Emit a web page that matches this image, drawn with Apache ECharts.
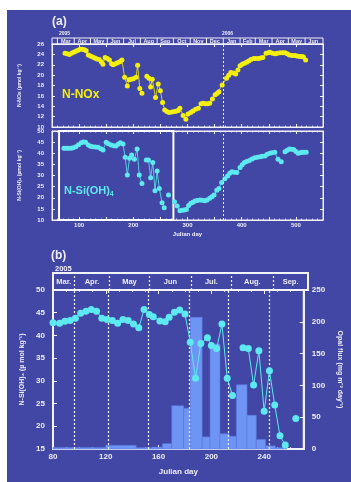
<!DOCTYPE html>
<html>
<head>
<meta charset="utf-8">
<script src="https://cdn.jsdelivr.net/npm/echarts@6/dist/echarts.min.js"></script>
<style>
html, body { margin: 0; padding: 0; background: #fff; }
#panel { position: absolute; left: 7px; top: 10px; width: 344px; height: 472px; background: #4247a6; }
#chart { position: absolute; left: 0; top: 0; width: 351px; height: 482px; }
</style>
</head>
<body>
<div id="panel"></div>
<div id="chart"></div>
<script>
// (a) month strip, 2005-2006, edges in julian day
const monthsA = ['Mar', 'Apr', 'May', 'Jun', 'Jul', 'Aug', 'Sep', 'Oct', 'Nov', 'Dec', 'Jan', 'Feb', 'Mar', 'Apr', 'May', 'Jun']
const monthEdgesA = [60, 91, 121, 152, 182, 213, 244, 274, 305, 335, 366, 397, 425, 456, 486, 517, 547]
const yearStart2006 = 366

// (b) month strip
const monthsB = ['Mar.', 'Apr.', 'May', 'Jun', 'Jul.', 'Aug.', 'Sep.']
const monthEdgesB = [80, 96, 122, 152, 183, 213, 244, 270]
const monthLinesB = [96, 122, 152, 183, 213, 244]

// (a) N-NOx, [julian day, umol/kg]
const nox = [
  [74, 24.2], [78, 24.1], [82, 24.0], [86, 24.2], [90, 24.4], [94, 24.6], [98, 24.8], [102, 25.0], [106, 25.0],
  [110, 24.9], [113, 24.7], [117, 23.9], [121, 23.7], [125, 23.5], [129, 23.3], [133, 23.1], [137, 23.0],
  [141, 22.6], [144, 22.1], [148, 23.4], [152, 23.2], [156, 22.9], [160, 22.2], [163, 22.0], [167, 22.2],
  [171, 22.4], [175, 22.6], [179, 22.9], [184, 19.6], [189, 17.9], [192, 19.1], [196, 19.2], [200, 19.3],
  [205, 19.6], [208, 21.9], [212, 17.4], [216, 16.5], [220, '-'], [225, 19.8], [229, 19.4], [232, 17.7],
  [235, 19.2], [241, 15.7], [246, 18.3], [250, 17.0], [254, 14.7], [258, 13.3], [262, 13.0], [266, 12.8],
  [271, 12.9], [276, 13.0], [280, 13.1], [283, 13.2], [286, 13.6], [292, 12.2], [297, 11.5], [301, 12.5],
  [306, 12.8], [310, 13.1], [315, 13.4], [320, 13.6], [325, 14.5], [329, 14.6], [333, 14.5], [337, 14.5],
  [341, 14.6], [346, 15.4], [351, 16.2], [355, 16.5], [358, 16.8], [364, 18.1], [372, 19.4], [376, 20.0],
  [380, 20.5], [385, 20.4], [389, 20.2], [393, 21.0], [397, 21.8], [401, 22.1], [405, 22.3], [409, 22.5],
  [413, 22.7], [417, 23.0], [422, 23.2], [426, 23.2], [431, 23.2], [435, 23.3], [439, 23.4], [445, 24.2],
  [449, 24.3], [452, 24.4], [457, 24.2], [462, 24.1], [466, 24.2], [471, 24.3], [476, 24.3], [480, 24.3],
  [484, 24.1], [488, 23.9], [493, 23.8], [498, 23.8], [502, 23.7], [507, 23.6], [511, 23.6], [514, 23.5],
  [518, 22.9]
]

// (a) N-Si(OH)4, [julian day, umol/kg]
const siA = [
  [72, 42.2], [76, 42.2], [80, 42.2], [85, 42.2], [89, 42.5], [94, 42.9], [99, 43.8], [104, 44.7], [108, 45.1],
  [112, 45.0], [117, 43.7], [121, 43.2], [125, 42.9], [130, 42.8], [135, 42.7], [140, 42.0], [144, 41.5],
  [150, 44.9], [154, 44.3], [159, 43.7], [164, 43.4], [168, 43.3], [172, 44.0], [176, 44.7], [181, 44.2],
  [185, 38.2], [189, 30.2], [193, 37.7], [197, 39.2], [202, 37.3], [207, 41.9], [211, 30.2], [216, 26.4],
  [220, '-'], [224, 37.0], [228, 37.0], [232, 29.0], [236, 35.8], [240, 23.2], [244, 32.0], [248, 24.2],
  [253, 17.8], [257, 15.5], [261, '-'], [265, 21.2], [270, '-'], [276, 18.2], [281, 16.3], [286, 14.2],
  [290, 14.4], [294, 14.5], [298, 14.7], [302, 16.5], [306, 17.5], [310, 18.0], [314, 18.5], [318, 18.8],
  [323, 19.0], [327, 18.9], [332, 18.7], [336, 19.0], [341, 19.8], [345, 20.5], [349, 21.2], [354, 23.4],
  [358, 24.2], [363, 26.9], [369, 28.5], [374, 29.8], [378, 31.0], [382, 31.7], [386, 31.5], [391, 31.3],
  [397, 33.6], [401, 34.8], [405, 35.8], [409, 36.3], [414, 36.7], [419, 37.4], [424, 38.0], [429, 38.2],
  [434, 38.4], [438, 38.6], [443, 38.8], [447, 39.5], [452, 40.0], [456, 40.2], [461, 40.4], [467, 37.3],
  [473, 36.2], [476, '-'], [480, 40.7], [484, 41.3], [488, 41.9], [492, 41.8], [496, 41.7], [500, 40.8],
  [504, 40.0], [508, 40.2], [511, 40.4], [515, 40.4], [519, 40.4]
]
// white box in (a): the period zoomed in (b)
const zoomWindow = [63, 274]

// (b) N-Si(OH)4, [julian day, umol/kg]
const siB = [
  [80, 42.8], [85, 42.7], [89, 43.1], [93, 43.3], [97, 43.8], [101, 44.9], [105, 45.3], [109, 45.7], [113, 45.3],
  [117, 43.8], [121, 43.5], [125, 43.3], [129, 42.7], [133, 43.5], [137, 43.3], [141, 42.5], [145, 41.7],
  [149, 45.7], [153, 44.6], [156, 44.1], [161, 43.2], [165, 43.0], [168, 44.0], [172, 45.1], [176, 45.6],
  [180, 44.7], [184, 38.5], [188, 30.6], [192, 38.2], [197, 39.5], [200, 37.8], [204, 37.1], [208, 42.5],
  [212, 30.6], [216, 26.8], [220, '-'], [224, 37.3], [228, 37.1], [232, 29.1], [236, 36.6], [240, 23.3],
  [244, 32.2], [248, 24.7], [252, 17.9], [256, 15.9], [260, '-'], [264, 21.7]
]

// (b) opal flux, [start day, end day, mg m-2 day-1]
const opal = [
  [80, 120, 2.5], [120, 143, 5.7], [143, 155, 2], [155, 163, 3], [163, 170, 8.5], [170, 179, 68], [179, 184, 64],
  [184, 193, 207], [193, 199, 19], [199, 206.5, 165], [206.5, 213.5, 24], [213.5, 219, 20], [219, 227, 101],
  [227, 234, 53], [234, 241, 15], [241, 248.5, 5], [248.5, 257, 2]
]

const ink = '#eeeef6'
const frame = '#f2f2f8'
const yellow = '#f4ef0c'
const cyan = '#5ee9f0'
const barBlue = '#6f95f4'
const font = '"Liberation Sans", Arial, sans-serif'

const chart = echarts.init(document.getElementById('chart'))

const gridA = { left: 52, width: 271 }
const gridB = { left: 53, width: 255 }

function labelStyle(size) {
  return { color: ink, fontSize: size, fontWeight: 'bold', fontFamily: font }
}

function edgeCells(edges) {
  return edges.slice(0, -1).map((d, i) => [d, edges[i + 1]])
}

function headerRender(labels, size, separators) {
  return function (params, api) {
    const p0 = api.coord([api.value(0), 0])
    const p1 = api.coord([api.value(1), 1])
    const kids = []
    if (separators) {
      kids.push({ type: 'line', shape: { x1: p0[0], y1: p0[1], x2: p0[0], y2: p1[1] }, style: { stroke: frame, lineWidth: 1 } })
    }
    kids.push({
      type: 'text', x: (p0[0] + p1[0]) / 2, y: (p0[1] + p1[1]) / 2 + 0.5,
      style: { text: labels[params.dataIndex], fill: ink, fontSize: size, fontWeight: 'bold', fontFamily: font, align: 'center', verticalAlign: 'middle' }
    })
    return { type: 'group', children: kids }
  }
}

function dashed(values, width) {
  return {
    silent: true, symbol: 'none', animation: false,
    label: { show: false },
    lineStyle: { color: frame, type: [2, 2], width: width || 1 },
    data: values.map((v) => ({ xAxis: v }))
  }
}

const tickIn = (len) => ({ show: true, inside: true, length: len, lineStyle: { color: frame, width: 1 } })
const minorIn = (n, len) => ({ show: true, splitNumber: n, length: len, lineStyle: { color: frame, width: 0.8 } })

const option = {
  animation: false,
  grid: [
    { ...gridA, top: 38, height: 6, show: true, borderColor: frame, borderWidth: 1 },
    { ...gridA, top: 44, height: 83, show: true, borderColor: frame, borderWidth: 1 },
    { ...gridA, top: 131, height: 89, show: true, borderColor: frame, borderWidth: 1 },
    { ...gridB, top: 273, height: 17, show: true, borderColor: frame, borderWidth: 2 },
    { ...gridB, top: 290, height: 159, show: true, borderColor: frame, borderWidth: 2 }
  ],
  xAxis: [
    { gridIndex: 0, type: 'value', min: 50, max: 550, show: false },
    { gridIndex: 1, type: 'value', min: 50, max: 550, interval: 50,
      axisLine: { lineStyle: { color: frame } }, axisTick: tickIn(3), minorTick: minorIn(5, 1.5),
      axisLabel: { show: false }, splitLine: { show: false } },
    { gridIndex: 1, type: 'value', position: 'top', min: 50, max: 550, interval: 50,
      axisLine: { lineStyle: { color: frame } }, axisTick: tickIn(3), axisLabel: { show: false }, splitLine: { show: false } },
    { gridIndex: 2, type: 'value', min: 50, max: 550, interval: 50,
      axisLine: { lineStyle: { color: frame } }, axisTick: tickIn(3), minorTick: minorIn(5, 1.5),
      axisLabel: { ...labelStyle(6), margin: 2, formatter: (v) => (v % 100 === 0 && v > 50 && v < 550 ? v : '') },
      splitLine: { show: false },
      name: 'Julian day', nameLocation: 'middle', nameGap: 11, nameTextStyle: labelStyle(6) },
    { gridIndex: 2, type: 'value', position: 'top', min: 50, max: 550, interval: 50,
      axisLine: { lineStyle: { color: frame } }, axisTick: tickIn(3), minorTick: minorIn(5, 1.5),
      axisLabel: { show: false }, splitLine: { show: false } },
    { gridIndex: 3, type: 'value', min: 80, max: 270, show: false },
    { gridIndex: 4, type: 'value', min: 80, max: 270, interval: 40,
      axisLine: { lineStyle: { color: frame, width: 2 } }, axisTick: tickIn(4), minorTick: minorIn(4, 2),
      axisLabel: { ...labelStyle(8), margin: 4, formatter: (v) => (v % 40 === 0 ? v : '') },
      splitLine: { show: false },
      name: 'Julian day', nameLocation: 'middle', nameGap: 19, nameTextStyle: labelStyle(8) },
    { gridIndex: 4, type: 'value', position: 'top', min: 80, max: 270, interval: 40,
      axisLine: { lineStyle: { color: frame, width: 2 } }, axisTick: tickIn(4), minorTick: minorIn(4, 2),
      axisLabel: { show: false }, splitLine: { show: false } }
  ],
  yAxis: [
    { gridIndex: 0, type: 'value', min: 0, max: 1, show: false },
    { gridIndex: 1, type: 'value', min: 10, max: 26, interval: 2,
      axisLine: { show: true, lineStyle: { color: frame } }, axisTick: tickIn(3), splitLine: { show: false },
      axisLabel: { ...labelStyle(6), margin: 8 },
      name: 'N-NOx (µmol kg⁻¹)', nameLocation: 'middle', nameRotate: 90, nameGap: 30, nameTextStyle: labelStyle(5) },
    { gridIndex: 1, type: 'value', position: 'right', min: 10, max: 26, interval: 2,
      axisLine: { show: true, lineStyle: { color: frame } }, axisTick: tickIn(3), splitLine: { show: false }, axisLabel: { show: false } },
    { gridIndex: 2, type: 'value', min: 10, max: 50, interval: 5,
      axisLine: { show: true, lineStyle: { color: frame } }, axisTick: tickIn(3), splitLine: { show: false },
      axisLabel: { ...labelStyle(6), margin: 8 },
      name: 'N-Si(OH)₄ (µmol kg⁻¹)', nameLocation: 'middle', nameRotate: 90, nameGap: 30, nameTextStyle: labelStyle(5) },
    { gridIndex: 2, type: 'value', position: 'right', min: 10, max: 50, interval: 5,
      axisLine: { show: true, lineStyle: { color: frame } }, axisTick: tickIn(3), splitLine: { show: false }, axisLabel: { show: false } },
    { gridIndex: 3, type: 'value', min: 0, max: 1, show: false },
    { gridIndex: 4, type: 'value', min: 15, max: 50, interval: 5,
      axisLine: { show: true, lineStyle: { color: frame, width: 2 } }, axisTick: tickIn(4), splitLine: { show: false },
      axisLabel: { ...labelStyle(8), margin: 8 },
      name: 'N-Si(OH)₄ (µ mol kg⁻¹)', nameLocation: 'middle', nameRotate: 90, nameGap: 22, nameTextStyle: labelStyle(7) },
    { gridIndex: 4, type: 'value', position: 'right', min: 0, max: 250, interval: 50,
      axisLine: { show: true, lineStyle: { color: frame, width: 2 } }, axisTick: tickIn(4), splitLine: { show: false },
      axisLabel: { ...labelStyle(8), margin: 8 },
      name: 'Opal flux (mg m⁻² day⁻¹)', nameLocation: 'middle', nameRotate: -90, nameGap: 22, nameTextStyle: labelStyle(7) }
  ],
  series: [
    {
      type: 'custom', xAxisIndex: 0, yAxisIndex: 0,
      data: edgeCells(monthEdgesA), encode: { x: [0, 1] },
      renderItem: headerRender(monthsA, 5.5, true)
    },
    {
      name: 'N-NOx', type: 'line', xAxisIndex: 1, yAxisIndex: 1, data: nox,
      symbol: 'circle', symbolSize: 5, itemStyle: { color: yellow }, lineStyle: { color: yellow, width: 0.8 },
      markLine: dashed([yearStart2006])
    },
    {
      name: 'N-Si(OH)4 a', type: 'line', xAxisIndex: 3, yAxisIndex: 3, data: siA,
      symbol: 'circle', symbolSize: 5, itemStyle: { color: cyan }, lineStyle: { color: cyan, width: 0.8 },
      markLine: dashed([yearStart2006]),
      markArea: {
        silent: true,
        itemStyle: { color: 'rgba(0,0,0,0)', borderColor: '#ffffff', borderWidth: 2 },
        data: [[{ xAxis: zoomWindow[0], yAxis: 50 }, { xAxis: zoomWindow[1], yAxis: 10 }]]
      }
    },
    {
      type: 'custom', xAxisIndex: 5, yAxisIndex: 5,
      data: edgeCells(monthEdgesB), encode: { x: [0, 1] },
      renderItem: headerRender(monthsB, 7.5, false),
      markLine: dashed(monthLinesB, 1.2)
    },
    {
      name: 'Opal flux', type: 'custom', xAxisIndex: 6, yAxisIndex: 7,
      data: opal, encode: { x: [0, 1], y: 2 },
      renderItem: function (params, api) {
        const a = api.coord([api.value(0), 0])
        const b = api.coord([api.value(1), api.value(2)])
        return {
          type: 'rect',
          shape: { x: a[0], y: b[1], width: b[0] - a[0], height: a[1] - b[1] },
          style: { fill: barBlue, stroke: '#5a7be0', lineWidth: 0.6 }
        }
      },
      markLine: dashed(monthLinesB, 1.2)
    },
    {
      name: 'N-Si(OH)4 b', type: 'line', xAxisIndex: 6, yAxisIndex: 6, data: siB, z: 5,
      symbol: 'circle', symbolSize: 7, itemStyle: { color: cyan }, lineStyle: { color: cyan, width: 1 }
    }
  ],
  graphic: [
    { type: 'text', left: 52, top: 16, style: { text: '(a)', fill: ink, fontSize: 12, fontWeight: 'bold', fontFamily: font } },
    { type: 'text', left: 59, top: 31, style: { text: '2005', fill: ink, fontSize: 5, fontWeight: 'bold', fontFamily: font } },
    { type: 'text', left: 222, top: 31, style: { text: '2006', fill: ink, fontSize: 5, fontWeight: 'bold', fontFamily: font } },
    { type: 'text', left: 62, top: 89, style: { text: 'N-NOx', fill: yellow, fontSize: 12, fontWeight: 'bold', fontFamily: font } },
    { type: 'text', left: 64, top: 185, style: {
      text: '{m|N-Si(OH)}{s|4}', fill: cyan, fontFamily: font,
      rich: { m: { fontSize: 11, fontWeight: 'bold', fill: cyan, fontFamily: font }, s: { fontSize: 7, fontWeight: 'bold', fill: cyan, padding: [8, 0, 0, 0], fontFamily: font } }
    } },
    { type: 'text', left: 51, top: 250, style: { text: '(b)', fill: ink, fontSize: 12, fontWeight: 'bold', fontFamily: font } },
    { type: 'text', left: 55, top: 265, style: { text: '2005', fill: ink, fontSize: 7.5, fontWeight: 'bold', fontFamily: font } }
  ]
}

chart.setOption(option)
</script>
</body>
</html>
